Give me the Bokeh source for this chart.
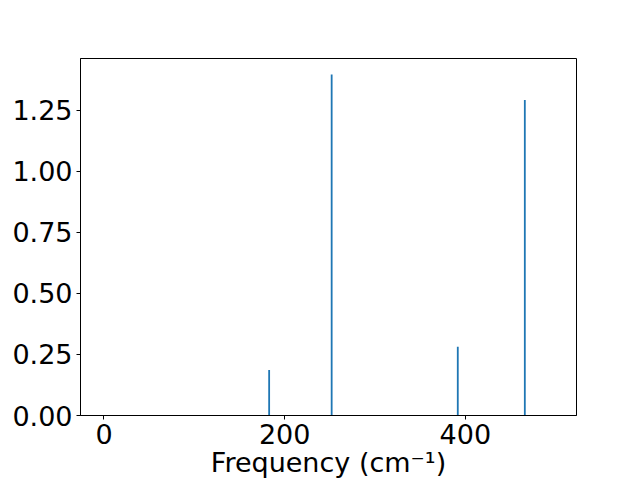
from bokeh.plotting import figure
from bokeh.embed import file_html
from bokeh.resources import INLINE
from bokeh.models import Range1d, FixedTicker, NumeralTickFormatter

# data
freq = [182.8, 252.0, 391.6, 465.8]
intensity = [0.186, 1.396, 0.282, 1.292]
x_ticks = [0, 200, 400]
y_ticks = [0.0, 0.25, 0.5, 0.75, 1.0, 1.25]

p = figure(width=640, height=480, output_backend="svg", toolbar_location=None,
           x_range=Range1d(-26, 523), y_range=Range1d(0, 1.462),
           min_border_left=80, min_border_right=64, min_border_top=58,
           min_border_bottom=40)

p.vbar(x=freq, top=intensity, bottom=0, width=2.0,
       fill_color="#1f77b4", line_color=None)

p.grid.visible = False
p.outline_line_color = "black"
p.outline_line_width = 1
p.background_fill_color = "white"
p.border_fill_color = "white"

for ax in (p.xaxis[0], p.yaxis[0]):
    ax.major_tick_in = 0
    ax.major_tick_out = 4
    ax.minor_tick_in = 0
    ax.minor_tick_out = 0
    ax.axis_line_color = "black"
    ax.major_tick_line_color = "black"
    ax.major_label_text_font = "DejaVu Sans"
    ax.major_label_text_font_size = "27px"
    ax.major_label_text_color = "black"
    ax.major_label_standoff = 4

p.xaxis.ticker = FixedTicker(ticks=x_ticks)
p.yaxis.ticker = FixedTicker(ticks=y_ticks)
p.yaxis.formatter = NumeralTickFormatter(format="0.00")

p.xaxis.axis_label = "Frequency (cm⁻¹)"
p.xaxis.axis_label_text_font = "DejaVu Sans"
p.xaxis.axis_label_text_font_size = "27px"
p.xaxis.axis_label_text_font_style = "normal"
p.xaxis.axis_label_text_color = "black"
p.xaxis.axis_label_standoff = 0

open("out.html", "w").write(file_html(p, INLINE))
